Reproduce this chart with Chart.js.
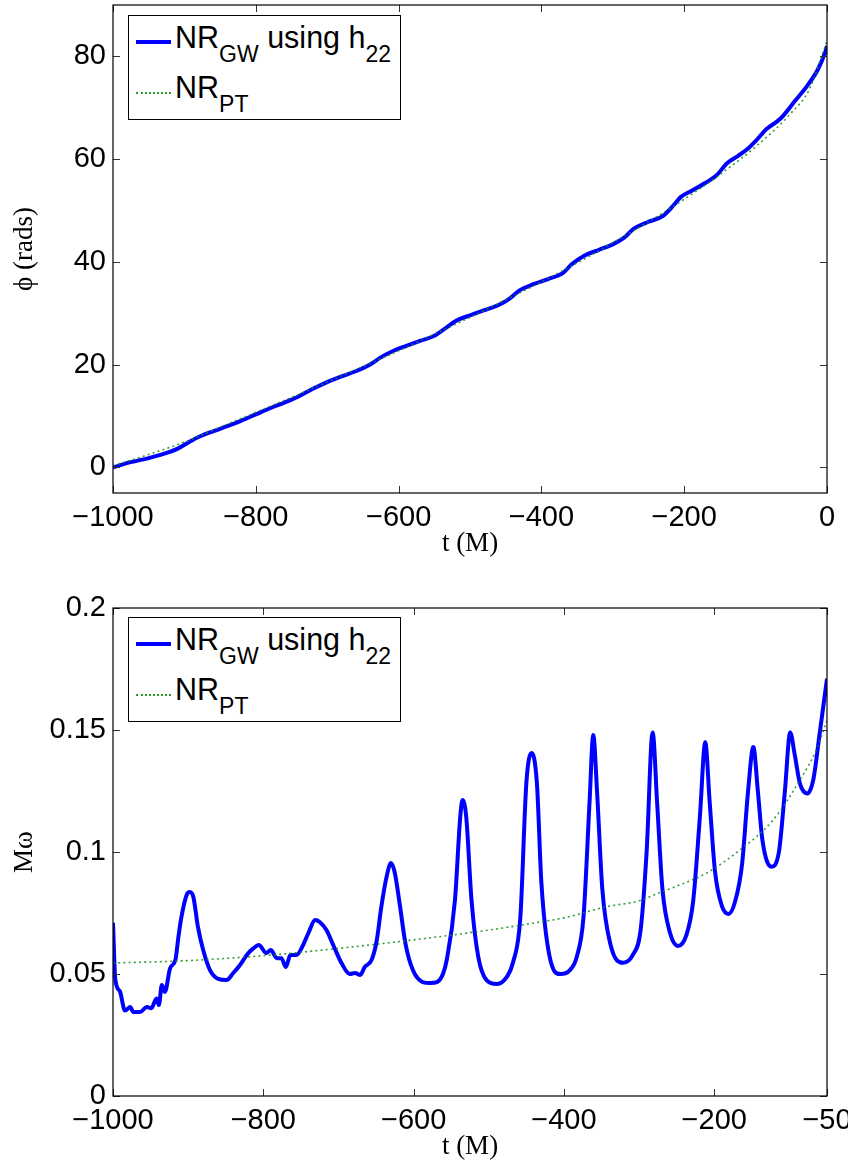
<!DOCTYPE html>
<html>
<head>
<meta charset="utf-8">
<script src="https://cdn.jsdelivr.net/npm/chart.js@4.4.1/dist/chart.umd.min.js"></script>
<style>
  html, body { margin:0; padding:0; background:#fff; }
  #wrap { position:relative; width:848px; height:1164px; overflow:hidden; }
  .box  { position:absolute; left:0; width:848px; }
  .leg  { position:absolute; left:128px; width:271px; height:103px; border:1px solid #000;
          background:#fff; font-family:"Liberation Sans", Arial, sans-serif; color:#000; }
  .sample { position:absolute; left:7px; width:35px; }
  .txt  { position:absolute; left:46px; font-size:30.5px; line-height:30px; white-space:nowrap; }
  .txt sub { font-size:23px; vertical-align:-14px; line-height:0; }
</style>
</head>
<body>
<div id="wrap">
  <div class="box" style="top:0;height:560px"><canvas id="phiChart"></canvas></div>
  <div class="box" style="top:560px;height:604px"><canvas id="omChart"></canvas></div>

  <div class="leg" style="top:15px">
    <div class="sample" style="top:24px;border-top:4px solid #0000ff"></div>
    <div class="txt" style="top:6px">NR<sub>GW</sub> using h<sub>22</sub></div>
    <div class="sample" style="top:76px;border-top:2px dotted #2e9a2e"></div>
    <div class="txt" style="top:56px">NR<sub>PT</sub></div>
  </div>

  <div class="leg" style="top:617px">
    <div class="sample" style="top:24px;border-top:4px solid #0000ff"></div>
    <div class="txt" style="top:6px">NR<sub>GW</sub> using h<sub>22</sub></div>
    <div class="sample" style="top:76px;border-top:2px dotted #2e9a2e"></div>
    <div class="txt" style="top:56px">NR<sub>PT</sub></div>
  </div>
</div>

<script>
/* ═══════════════════════════════════════════════════════════
   DATA
═══════════════════════════════════════════════════════════ */
// top panel: phase phi(t)
const PHI_T_GW = [-1000,-975,-950,-925,-910,-895,-880,-860,-840,-820,-800,-780,-760,-740,-720,-700,-680,-660,-640,-625,-610,-590,-570,-550,-535,-520,-500,-480,-460,-445,-430,-410,-390,-370,-358,-340,-320,-300,-285,-270,-250,-230,-215,-205,-190,-170,-155,-140,-125,-111,-100,-85,-65,-45,-27,-13,-2,0];
const PHI_GW   = [0,1.0,1.8,2.8,3.6,4.8,5.9,7.0,8.0,9.1,10.3,11.5,12.6,13.8,15.3,16.6,17.7,18.7,20.0,21.4,22.5,23.6,24.6,25.6,27.0,28.5,29.6,30.6,31.6,32.8,34.5,35.7,36.7,37.8,39.5,41.2,42.3,43.4,44.6,46.5,47.8,48.9,51.0,52.6,53.8,55.4,56.8,59.2,60.6,62.0,63.5,65.8,67.9,71.3,74.4,77.4,81.0,82.0];
const PHI_T_PT = [-1000,-950,-900,-850,-800,-750,-700,-650,-600,-550,-500,-450,-400,-350,-300,-250,-200,-150,-100,-50,-25,0];
const PHI_PT   = [0.3,2.5,4.9,7.8,10.7,13.6,16.6,19.6,22.7,25.9,29.2,32.6,36.1,39.8,43.7,47.8,52.2,57.0,62.4,69.0,73.5,83.0];

// bottom panel: frequency M*omega(t)
const OM_T_GW = [-1000,-997,-991,-984,-977,-973,-964,-955,-949,-942,-939,-935,-931,-924,-917,-913,-909,-902,-898,-893,-887,-880,-871,-860,-849,-840,-831,-822,-813,-806,-796,-790,-782,-776,-770,-764,-756,-747,-740,-731,-725,-716,-707,-696,-685,-678,-671,-665,-656,-649,-643,-636,-630,-625,-618,-611,-601,-588,-578,-569,-561,-556,-545,-538,-535,-530,-523,-514,-503,-489,-476,-468,-458,-450,-443,-436,-430,-419,-405,-392,-383,-374,-366,-361,-356,-349,-338,-321,-308,-298,-290,-282,-276,-269,-259,-248,-237,-228,-219,-212,-206,-199,-190,-181,-172,-163,-155,-148,-142,-136,-124,-114,-106,-99,-93,-86,-76,-68,-60,-50];
const OM_GW   = [0.071,0.048,0.043,0.035,0.0365,0.0344,0.0344,0.0365,0.036,0.040,0.0373,0.0455,0.0426,0.0524,0.0557,0.0651,0.0733,0.0824,0.0836,0.0815,0.0693,0.0598,0.0516,0.048,0.0475,0.0504,0.0537,0.0578,0.0606,0.0619,0.0586,0.0598,0.0565,0.0565,0.0529,0.0578,0.0578,0.0619,0.0668,0.0721,0.0713,0.068,0.0619,0.0545,0.050,0.0504,0.0496,0.0529,0.0557,0.0639,0.0775,0.0898,0.0955,0.0914,0.0775,0.0627,0.0516,0.0467,0.0463,0.0467,0.050,0.0557,0.0803,0.1143,0.1213,0.1143,0.0803,0.057,0.0475,0.0459,0.0488,0.0545,0.0733,0.1283,0.1406,0.1283,0.0873,0.057,0.050,0.0516,0.057,0.0733,0.12,0.148,0.125,0.085,0.062,0.0546,0.058,0.068,0.10,0.149,0.12,0.085,0.067,0.0615,0.066,0.08,0.115,0.145,0.12,0.092,0.078,0.0746,0.08,0.095,0.125,0.143,0.125,0.105,0.094,0.10,0.125,0.149,0.14,0.128,0.124,0.13,0.148,0.171];
const OM_T_PT = [-1000,-900,-800,-700,-600,-500,-432,-400,-343,-300,-277,-250,-210,-166,-122,-86,-64,-50];
const OM_PT   = [0.0545,0.0555,0.0575,0.0605,0.064,0.068,0.0713,0.073,0.0776,0.080,0.0828,0.086,0.0914,0.1008,0.113,0.1295,0.142,0.154];

// ticks
const PHI_X_TICKS = [-1000,-800,-600,-400,-200,0];
const PHI_Y_TICKS = [0,20,40,60,80];
const OM_X_TICKS  = [-1000,-800,-600,-400,-200,-50];
const OM_Y_TICKS  = [0,0.05,0.1,0.15,0.2];

/* ═══════════════════════════════════════════════════════════
   HELPERS
═══════════════════════════════════════════════════════════ */
const pts = (xs, ys) => xs.map((x,i)=>({x, y: ys[i]}));
const fmt = v => String(v).replace('-', '\u2212');

const TICK_FONT  = { family:'"Liberation Sans", Arial, sans-serif', size:29, lineHeight:1 };
const TITLE_FONT = { family:'"Liberation Serif", "Times New Roman", serif', size:27, lineHeight:1 };

// MATLAB-like box with inward tick marks on all four sides
const matlabBox = {
  id: 'matlabBox',
  afterDatasetsDraw(chart){
    const {ctx, chartArea:a, scales:{x, y}} = chart;
    const L = 7;
    ctx.save();
    ctx.strokeStyle = '#333';
    ctx.lineWidth = 1;
    ctx.beginPath();
    x.ticks.forEach(t=>{
      const px = Math.round(x.getPixelForValue(t.value)) + 0.5;
      ctx.moveTo(px, a.bottom); ctx.lineTo(px, a.bottom - L);
      ctx.moveTo(px, a.top);    ctx.lineTo(px, a.top + L);
    });
    y.ticks.forEach(t=>{
      const py = Math.round(y.getPixelForValue(t.value)) + 0.5;
      ctx.moveTo(a.left, py);  ctx.lineTo(a.left + L, py);
      ctx.moveTo(a.right, py); ctx.lineTo(a.right - L, py);
    });
    ctx.stroke();
    ctx.strokeStyle = '#000';
    ctx.lineWidth = 1.2;
    ctx.strokeRect(a.left, a.top, a.right - a.left, a.bottom - a.top);
    ctx.restore();
  }
};

function makeConfig(o){
  return {
    type: 'line',
    data: {
      datasets: [
        {
          label: 'NR_PT',
          data: pts(o.tPt, o.yPt),
          borderColor: 'rgba(20,140,20,.85)',
          borderWidth: 1.6,
          borderDash: [2, 3.2],
          pointRadius: 0,
          cubicInterpolationMode: 'monotone',
          order: 0,
        },
        {
          label: 'NR_GW using h22',
          data: pts(o.tGw, o.yGw),
          borderColor: '#0000ff',
          borderWidth: 4,
          pointRadius: 0,
          cubicInterpolationMode: 'monotone',
          order: 1,
        },
      ]
    },
    plugins: [matlabBox],
    options: {
      responsive: true, maintainAspectRatio: false,
      devicePixelRatio: 1,
      animation: false,
      layout: { padding: { left:0, right:21, top:o.padTop, bottom:o.padBottom } },
      plugins: { legend: { display:false }, tooltip: { enabled:false } },
      scales: {
        x: {
          type: 'linear', min: o.xMin, max: o.xMax,
          afterBuildTicks: s => { s.ticks = o.xTicks.map(v=>({value:v})); },
          afterFit: s => { s.height = 64; s.paddingLeft = 0; s.paddingRight = 0; },
          grid: { display:false, drawTicks:false },
          border: { display:false },
          ticks: { color:'#000', font:TICK_FONT, padding:10, maxRotation:0, autoSkip:false, callback: fmt },
          title: { display:true, text:'t (M)', color:'#000', font:TITLE_FONT, padding:{top:0, bottom:0} },
        },
        y: {
          type: 'linear', min: o.yMin, max: o.yMax,
          afterBuildTicks: s => { s.ticks = o.yTicks.map(v=>({value:v})); },
          afterFit: s => { s.width = 113; s.paddingTop = 0; s.paddingBottom = 0; },
          grid: { display:false, drawTicks:false },
          border: { display:false },
          ticks: { color:'#000', font:TICK_FONT, padding:7, autoSkip:false, callback: fmt },
          title: { display:true, text:o.yTitle, color:'#000', font:TITLE_FONT, padding:{top:11, bottom:0} },
        }
      }
    }
  };
}

/* ═══════════════════════════════════════════════════════════
   CHARTS
═══════════════════════════════════════════════════════════ */
new Chart(document.getElementById('phiChart').getContext('2d'), makeConfig({
  tGw: PHI_T_GW, yGw: PHI_GW, tPt: PHI_T_PT, yPt: PHI_PT,
  xMin: -1000, xMax: 0, yMin: -5, yMax: 90,
  xTicks: PHI_X_TICKS, yTicks: PHI_Y_TICKS,
  yTitle: '\u03d5 (rads)', padTop: 5, padBottom: 3,
}));

new Chart(document.getElementById('omChart').getContext('2d'), makeConfig({
  tGw: OM_T_GW, yGw: OM_GW, tPt: OM_T_PT, yPt: OM_PT,
  xMin: -1000, xMax: -50, yMin: 0, yMax: 0.2,
  xTicks: OM_X_TICKS, yTicks: OM_Y_TICKS,
  yTitle: 'M\u03c9', padTop: 48, padBottom: 4,
}));
</script>
</body>
</html>
